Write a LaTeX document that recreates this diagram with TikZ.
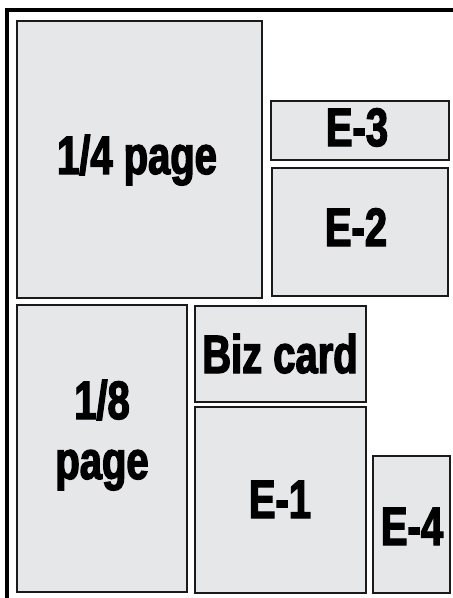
\documentclass[tikz,border=0pt]{standalone}
\usepackage{fontspec}
\setmainfont{Liberation Sans}[FakeStretch=0.74, FakeBold=2.5]
\definecolor{boxfill}{HTML}{E6E7E9}
\definecolor{boxline}{HTML}{1A1A1A}
\tikzset{
  adbox/.style={fill=boxfill, draw=boxline, line width=2pt},
  adlabel/.style={anchor=base, inner sep=0pt, font=\fontsize{54}{60}\selectfont\bfseries}
}
\begin{document}
\begin{tikzpicture}[x=1pt,y=-1pt]
\useasboundingbox (0,0) rectangle (453,598);
\draw[line width=4pt, line join=miter] (7,598) -- (7,9.5) -- (453,9.5);
\draw[adbox] (17,21) rectangle (262,298);
\draw[adbox] (271,101) rectangle (449,160);
\draw[adbox] (272,168) rectangle (448,296);
\draw[adbox] (17,305) rectangle (187,592);
\draw[adbox] (195,306) rectangle (366,402);
\draw[adbox] (195,407) rectangle (366,593);
\draw[adbox] (373,456) rectangle (450,593);
\node[adlabel] (q) at (137,174) {1/4 page};
\node[adlabel] (e3) at (357,146) {E-3};
\node[adlabel] (e2) at (356,246) {E-2};
\node[adlabel] (biz) at (280,373) {Biz card};
\node[adlabel] (e1a) at (102,419) {1/8};
\node[adlabel] (e1b) at (102,479) {page};
\node[adlabel] (e1) at (280,518) {E-1};
\node[adlabel] (e4) at (412,545) {E-4};
\end{tikzpicture}
\end{document}
